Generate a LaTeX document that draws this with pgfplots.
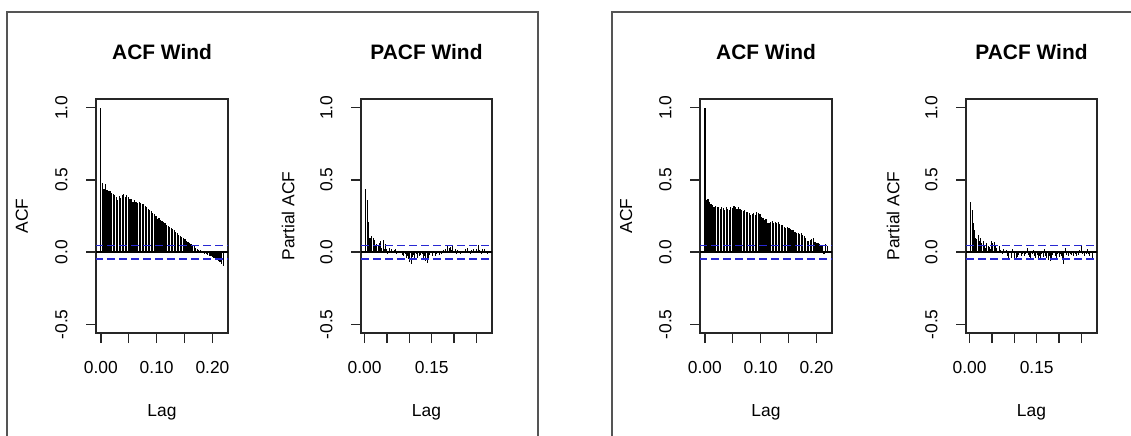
\documentclass[border=0pt]{standalone}
\usepackage{fontspec}
\setmainfont{Liberation Sans}
\usepackage{pgfplots}
\usepackage{pgfplotstable}
\pgfplotsset{compat=1.18}

\definecolor{bandblue}{RGB}{40,40,210}
\definecolor{framegray}{RGB}{85,85,85}

% Sample autocorrelations of the daily wind series (lag k in days, lag axis in years)
\pgfplotstableread{
k acf
0 1.000
1 0.480
2 0.440
3 0.470
4 0.430
5 0.420
6 0.425
7 0.410
8 0.400
9 0.395
10 0.385
11 0.360
12 0.390
13 0.375
14 0.395
15 0.400
16 0.385
17 0.395
18 0.380
19 0.370
20 0.365
21 0.350
22 0.360
23 0.345
24 0.340
25 0.345
26 0.340
27 0.330
28 0.335
29 0.320
30 0.310
31 0.300
32 0.290
33 0.285
34 0.270
35 0.265
36 0.250
37 0.230
38 0.235
39 0.220
40 0.215
41 0.210
42 0.200
43 0.190
44 0.180
45 0.175
46 0.170
47 0.160
48 0.150
49 0.140
50 0.135
51 0.120
52 0.115
53 0.105
54 0.095
55 0.090
56 0.080
57 0.070
58 0.060
59 0.055
60 0.045
61 0.040
62 0.030
63 0.025
64 0.015
65 0.012
66 0.005
67 -0.005
68 -0.010
69 -0.015
70 -0.020
71 -0.025
72 -0.030
73 -0.035
74 -0.040
75 -0.050
76 -0.055
77 -0.060
78 -0.070
79 -0.080
80 -0.095
}\acfA

\pgfplotstableread{
k pacf
1 0.440
2 0.360
3 0.210
4 0.100
5 0.095
6 0.110
7 0.100
8 0.085
9 0.050
10 0.055
11 0.045
12 0.065
13 0.075
14 0.030
15 0.085
16 0.020
17 0.055
18 0.020
19 -0.015
20 0.030
21 0.010
22 0.020
23 -0.005
24 0.015
25 0.020
26 -0.010
27 0.005
28 0.010
29 -0.005
30 0.000
31 -0.020
32 -0.030
33 -0.015
34 -0.040
35 -0.025
36 -0.050
37 -0.065
38 -0.080
39 -0.035
40 -0.020
41 -0.045
42 -0.010
43 -0.040
44 -0.005
45 -0.030
46 -0.020
47 -0.015
48 -0.045
49 -0.030
50 -0.060
51 -0.075
52 -0.050
53 -0.020
54 0.010
55 -0.025
56 -0.005
57 0.005
58 -0.030
59 -0.015
60 0.010
61 -0.020
62 0.005
63 -0.010
64 0.015
65 -0.005
66 0.020
67 0.010
68 0.040
69 0.030
70 0.035
71 0.015
72 0.040
73 0.005
74 0.020
75 -0.010
76 0.015
77 0.000
78 -0.015
79 0.010
80 0.005
81 -0.005
82 0.020
83 0.005
84 0.030
85 0.010
86 -0.010
87 0.015
88 0.005
89 0.020
90 -0.005
91 0.025
92 0.010
93 0.050
94 0.015
95 -0.010
96 0.020
97 0.005
98 0.025
99 0.010
100 -0.015
}\pacfA

\pgfplotstableread{
k acf
0 1.000
1 0.360
2 0.370
3 0.345
4 0.330
5 0.325
6 0.315
7 0.320
8 0.310
9 0.315
10 0.300
11 0.310
12 0.305
13 0.295
14 0.310
15 0.300
16 0.295
17 0.315
18 0.305
19 0.320
20 0.310
21 0.300
22 0.310
23 0.300
24 0.290
25 0.285
26 0.295
27 0.280
28 0.275
29 0.270
30 0.260
31 0.265
32 0.270
33 0.255
34 0.280
35 0.270
36 0.265
37 0.240
38 0.235
39 0.225
40 0.230
41 0.205
42 0.200
43 0.210
44 0.215
45 0.205
46 0.210
47 0.200
48 0.210
49 0.195
50 0.190
51 0.185
52 0.175
53 0.170
54 0.175
55 0.165
56 0.160
57 0.155
58 0.150
59 0.140
60 0.135
61 0.130
62 0.125
63 0.135
64 0.120
65 0.110
66 0.100
67 0.080
68 0.075
69 0.085
70 0.090
71 0.095
72 0.070
73 0.060
74 0.065
75 0.055
76 0.045
77 0.050
78 -0.010
79 0.055
80 0.040
}\acfB

\pgfplotstableread{
k pacf
1 0.350
2 0.290
3 0.200
4 0.155
5 0.100
6 0.090
7 0.120
8 0.080
9 0.100
10 0.065
11 0.075
12 0.050
13 0.030
14 0.060
15 0.045
16 0.035
17 0.020
18 0.075
19 0.060
20 0.070
21 0.040
22 0.030
23 0.010
24 0.045
25 0.015
26 0.005
27 -0.010
28 0.020
29 -0.005
30 0.015
31 -0.030
32 -0.045
33 0.010
34 -0.040
35 0.025
36 -0.005
37 -0.040
38 -0.050
39 -0.035
40 -0.020
41 0.005
42 -0.025
43 -0.010
44 0.010
45 -0.030
46 -0.015
47 0.030
48 -0.020
49 -0.035
50 -0.045
51 -0.010
52 0.015
53 -0.030
54 -0.040
55 -0.020
56 -0.050
57 -0.025
58 -0.045
59 -0.010
60 -0.035
61 0.020
62 -0.025
63 -0.040
64 -0.055
65 -0.030
66 -0.060
67 -0.045
68 -0.020
69 0.010
70 -0.030
71 -0.050
72 -0.015
73 -0.035
74 -0.010
75 -0.025
76 -0.040
77 -0.085
78 0.030
79 -0.020
80 -0.005
81 -0.030
82 -0.015
83 -0.020
84 0.005
85 -0.025
86 -0.010
87 -0.030
88 0.010
89 -0.020
90 0.015
91 0.040
92 -0.010
93 0.005
94 -0.025
95 -0.015
96 0.020
97 -0.010
98 -0.030
99 0.005
100 -0.045
}\pacfB

\newcommand{\basefont}{\fontsize{8.7}{10}\selectfont}
\pgfplotsset{
  every axis title/.style={at={(axis description cs:0.5,1.2009)}, anchor=center,
                 font=\bfseries\fontsize{10.45}{12}\selectfont},
  rplot/.style={
    scale only axis, height=117pt,
    ymin=-0.56, ymax=1.06,
    ytick={-0.5,0,0.5,1}, yticklabels={-0.5,0.0,0.5,1.0},
    tick align=outside, xtick pos=left, ytick pos=left,
    major tick length=5pt,
    axis line style={line width=0.65pt, black!85},
    every tick/.style={line width=0.65pt, black!85},
    tick label style={font=\basefont, inner sep=0pt},
    yticklabel style={rotate=90, anchor=south},
    xticklabel style={anchor=north},
    yticklabel shift=9pt, xticklabel shift=9pt,
    xlabel style={at={(axis description cs:0.5,-0.34)}, anchor=center, font=\basefont},
    ylabel style={anchor=center, font=\basefont},
    xlabel={Lag},
  },
  acfplot/.style={rplot, width=66pt,
    xmin=-0.00877, xmax=0.2279,
    xtick={0,0.05,0.1,0.15,0.2}, xticklabels={0.00,,0.10,,0.20},
    ylabel={ACF},
    ylabel style={at={(axis description cs:-0.5606,0.5)}},
  },
  pacfplot/.style={rplot, width=65.5pt,
    xmin=-0.00811, xmax=0.28482,
    xtick={0,0.05,0.1,0.15,0.2,0.25}, xticklabels={0.00,,,0.15,,},
    ylabel={Partial ACF},
    ylabel style={at={(axis description cs:-0.557,0.5)}},
  },
  bars/.style={ycomb, black, no markers},
  bandline/.style={sharp plot, bandblue, line width=0.85pt, dash pattern=on 3.8pt off 2.2pt},
}

% zero line and significance band (+-1.96/sqrt(n))
\newcommand{\bandlines}{%
  \addplot[sharp plot, black, line width=0.65pt] coordinates {(-1,0) (1,0)};
  \addplot[bandline] coordinates {(-1,-0.046) (1,-0.046)};
  \addplot[bandline] coordinates {(-1,0.046) (1,0.046)};
}

\begin{document}
\begin{tikzpicture}
\useasboundingbox (0,0) rectangle (565.5pt,217.5pt);
\begin{scope}
  \clip (0,0) rectangle (565.5pt,217.5pt);
  \draw[framegray, line width=0.8pt] (3.5pt,-5pt) -- (3.5pt,211.5pt) -- (269pt,211.5pt) -- (269pt,-5pt);
  \draw[framegray, line width=0.8pt] (306pt,-5pt) -- (306pt,211.5pt) -- (575pt,211.5pt);
\end{scope}

\begin{axis}[acfplot, at={(48pt,51pt)}, anchor=south west, title={ACF Wind}]
  \addplot[bars, line width=0.6pt] table[x expr=\thisrow{k}/365, y=acf] {\acfA};
  \bandlines
\end{axis}

\begin{axis}[pacfplot, at={(180.5pt,51pt)}, anchor=south west, title={PACF Wind}]
  \addplot[bars, line width=0.5pt] table[x expr=\thisrow{k}/365, y=pacf] {\pacfA};
  \bandlines
\end{axis}

\begin{axis}[acfplot, at={(350pt,51pt)}, anchor=south west, title={ACF Wind}]
  \addplot[bars, line width=0.6pt] table[x expr=\thisrow{k}/365, y=acf] {\acfB};
  \bandlines
\end{axis}

\begin{axis}[pacfplot, at={(483pt,51pt)}, anchor=south west, title={PACF Wind}]
  \addplot[bars, line width=0.5pt] table[x expr=\thisrow{k}/365, y=pacf] {\pacfB};
  \bandlines
\end{axis}
\end{tikzpicture}
\end{document}
